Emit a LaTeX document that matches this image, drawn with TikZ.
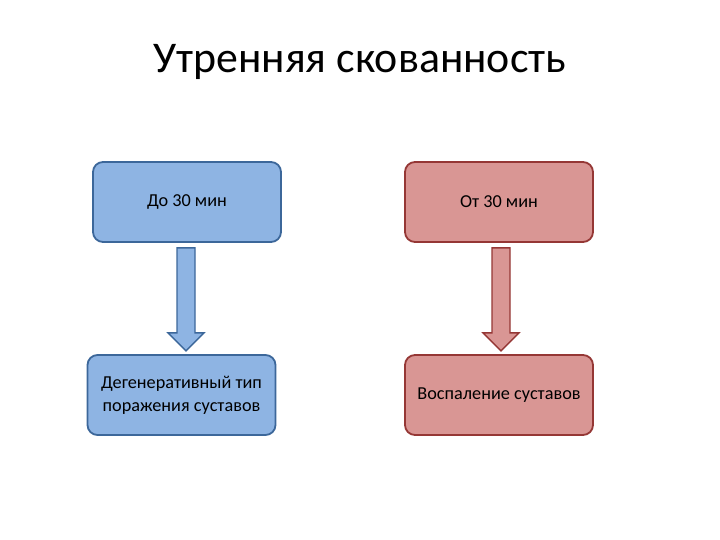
\documentclass[tikz,border=0pt]{standalone}
\usepackage{fontspec}
\setmainfont{Carlito}
\usetikzlibrary{positioning,calc}
\definecolor{bluefill}{HTML}{8EB4E3}
\definecolor{blueline}{HTML}{3C679A}
\definecolor{redfill}{HTML}{D99694}
\definecolor{redline}{HTML}{953735}
\tikzset{
  box/.style={rounded corners=10bp, line width=1.8bp, minimum width=188bp, minimum height=80bp,
    align=center, inner sep=2bp, font=\fontsize{18.3}{23}\selectfont, text=black},
  bluebox/.style={box, draw=blueline, fill=bluefill},
  redbox/.style={box, draw=redline, fill=redfill},
  fatarrow/.style={line width=1.4bp, line join=miter},
}
\begin{document}
\begin{tikzpicture}[x=1bp,y=-1bp]
\useasboundingbox (0,0) rectangle (720,540);
\node[font=\fontsize{44}{50}\selectfont, anchor=base] (title) at (360,73) {Утренняя скованность};
\node[bluebox] (a1) at (187,202) {До 30 мин};
\node[bluebox] (a2) at (181.5,395) {Дегенеративный тип\\поражения суставов};
\node[redbox] (b1) at (499,202) {От 30 мин};
\node[redbox] (b2) at (499,395) {Воспаление суставов};
% arrows
\coordinate (ta) at ($(a1.south)+(-1,5)$);
\coordinate (tb) at ($(b1.south)+(2,5)$);
\draw[fatarrow, draw=blueline, fill=bluefill]
  ($(ta)+(-9,0)$) -- ($(ta)+(9,0)$) -- ($(ta)+(9,85)$) -- ($(ta)+(18,85)$) -- ($(ta)+(0,103)$)
  -- ($(ta)+(-18,85)$) -- ($(ta)+(-9,85)$) -- cycle;
\draw[fatarrow, draw=redline, fill=redfill]
  ($(tb)+(-9,0)$) -- ($(tb)+(9,0)$) -- ($(tb)+(9,85)$) -- ($(tb)+(18,85)$) -- ($(tb)+(0,103)$)
  -- ($(tb)+(-18,85)$) -- ($(tb)+(-9,85)$) -- cycle;
\end{tikzpicture}
\end{document}
